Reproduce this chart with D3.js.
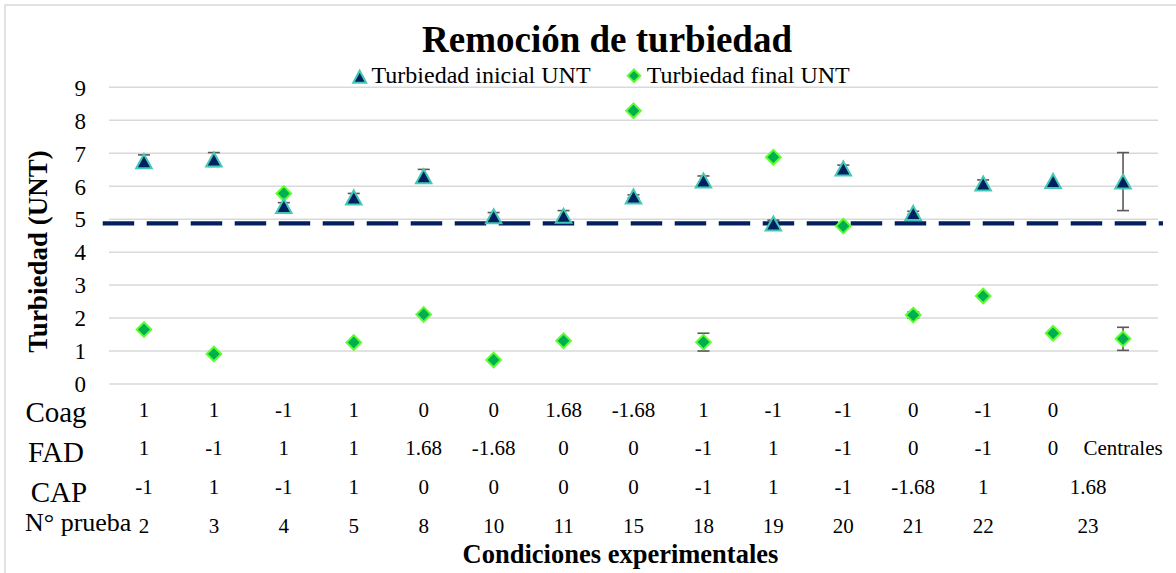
<!DOCTYPE html>
<html>
<head>
<meta charset="utf-8">
<script src="https://cdn.jsdelivr.net/npm/d3@7/dist/d3.min.js"></script>
<style>
  html, body { margin: 0; padding: 0; background: #ffffff; }
  svg { display: block; font-family: "Liberation Serif", "Times New Roman", serif; }
</style>
</head>
<body>
<svg id="chart" width="1176" height="573"></svg>
<script>
// Columns: one per test run, plus the replicated central points
const categories = ["2", "3", "4", "5", "8", "10", "11", "15", "18", "19", "20", "21", "22", "23", "Centrales"];

// Turbidity before and after treatment (UNT)
const initialTurbidity = [6.76, 6.81, 5.40, 5.66, 6.30, 5.09, 5.10, 5.69, 6.17, 4.87, 6.54, 5.19, 6.08, 6.16, 6.14];
const initialError     = [0.19, 0.21, 0.10, 0.12, 0.21, 0.11, 0.16, 0.05, 0.14, 0.10, 0.10, 0.05, 0.11, 0.00, 0.88];
const finalTurbidity   = [1.65, 0.91, 5.78, 1.26, 2.11, 0.73, 1.31, 8.29, 1.27, 6.88, 4.79, 2.09, 2.67, 1.54, 1.37];
const finalError       = [0, 0, 0, 0, 0, 0, 0, 0, 0.27, 0, 0, 0.09, 0, 0, 0.35];

// Reference turbidity level (dashed line)
const referenceLevel = 4.87;

// Y axis ticks
const yTicks = [0, 1, 2, 3, 4, 5, 6, 7, 8, 9];

// Experimental design table under the axis (null = merged with the cell to its left)
const rowLabels = ["Coag", "FAD", "CAP", "N° prueba"];
const coagRow   = ["1", "1", "-1", "1", "0", "0", "1.68", "-1.68", "1", "-1", "-1", "0", "-1", "0", ""];
const fadRow    = ["1", "-1", "1", "1", "1.68", "-1.68", "0", "0", "-1", "1", "-1", "0", "-1", "0", "Centrales"];
const capRow    = ["-1", "1", "-1", "1", "0", "0", "0", "0", "-1", "1", "-1", "-1.68", "1", "1.68", null];
const pruebaRow = ["2", "3", "4", "5", "8", "10", "11", "15", "18", "19", "20", "21", "22", "23", null];

const seriesNames = ["Turbiedad inicial UNT", "Turbiedad final UNT"];
const titleText = "Remoción de turbiedad";
const yTitle = "Turbiedad (UNT)";
const xTitle = "Condiciones experimentales";

const svg = d3.select("#chart");

const plot = { left: 109, right: 1158, top: 87.3, bottom: 384 };

const x = d3.scaleBand().domain(categories).range([plot.left, plot.right]).padding(0);
const y = d3.scaleLinear().domain([0, 9]).range([plot.bottom, plot.top]);
const cx = c => x(c) + x.bandwidth() / 2;

const colors = {
  grid: "#d9d9d9",
  triFill: "#002060",
  triStroke: "#45c9b5",
  diaFill: "#00b050",
  diaStroke: "#5cff2e",
  err: "#595959",
  ref: "#002060"
};

// Chart frame
svg.append("rect")
  .attr("x", 5).attr("y", 5)
  .attr("width", 1200).attr("height", 600)
  .attr("fill", "#ffffff")
  .attr("stroke", colors.grid)
  .attr("stroke-width", 1.5);

// Gridlines
svg.append("g")
  .selectAll("line")
  .data(yTicks)
  .join("line")
  .attr("x1", plot.left).attr("x2", plot.right)
  .attr("y1", d => y(d)).attr("y2", d => y(d))
  .attr("stroke", colors.grid)
  .attr("stroke-width", 1.5);

// Y axis labels
const yAxis = d3.axisLeft(y).tickValues(yTicks).tickSize(0).tickPadding(0).tickFormat(d3.format("d"));
const yAxisG = svg.append("g").attr("transform", `translate(86,0)`).call(yAxis);
yAxisG.select(".domain").remove();
yAxisG.selectAll("text")
  .attr("font-family", "Liberation Serif, Times New Roman, serif")
  .attr("font-size", 23)
  .attr("fill", "#000")
  .attr("dy", "0.34em");

// Title
svg.append("text")
  .attr("x", 607).attr("y", 52)
  .attr("text-anchor", "middle")
  .attr("font-size", 37)
  .attr("font-weight", "bold")
  .text(titleText);

// Y axis title
svg.append("text")
  .attr("transform", "translate(47,251.5) rotate(-90)")
  .attr("text-anchor", "middle")
  .attr("font-size", 27)
  .attr("font-weight", "bold")
  .text(yTitle);

// Marker shapes
const triPath = (w, h) => `M0,${-h / 2}L${w / 2},${h / 2}L${-w / 2},${h / 2}Z`;
const diaPath = r => `M0,${-r}L${r},0L0,${r}L${-r},0Z`;

// Legend
const legend = svg.append("g");
legend.append("path")
  .attr("d", triPath(13, 12))
  .attr("transform", "translate(359.7,76.7)")
  .attr("fill", colors.triFill).attr("stroke", colors.triStroke).attr("stroke-width", 2);
legend.append("text")
  .attr("x", 371.5).attr("y", 82.7)
  .attr("font-size", 24)
  .text(seriesNames[0]);
legend.append("path")
  .attr("d", diaPath(6.3))
  .attr("transform", "translate(634,75.8)")
  .attr("fill", colors.diaFill).attr("stroke", colors.diaStroke).attr("stroke-width", 2);
legend.append("text")
  .attr("x", 646.7).attr("y", 82.7)
  .attr("font-size", 24)
  .text(seriesNames[1]);

// Reference dashed line
svg.append("line")
  .attr("x1", 102.7).attr("x2", 1163)
  .attr("y1", y(referenceLevel)).attr("y2", y(referenceLevel))
  .attr("stroke", colors.ref)
  .attr("stroke-width", 4.2)
  .attr("stroke-dasharray", "31.5,12.5");

// Error bars
function drawErrors(values, errors) {
  const pts = categories.map((c, i) => ({ c, v: values[i], e: errors[i] })).filter(d => d.e > 0);
  const g = svg.append("g").attr("stroke", colors.err).attr("stroke-width", 1.6);
  g.selectAll("line.stem").data(pts).join("line")
    .attr("x1", d => cx(d.c)).attr("x2", d => cx(d.c))
    .attr("y1", d => y(d.v + d.e)).attr("y2", d => y(d.v - d.e));
  g.selectAll("line.capTop").data(pts).join("line")
    .attr("x1", d => cx(d.c) - 6).attr("x2", d => cx(d.c) + 6)
    .attr("y1", d => y(d.v + d.e)).attr("y2", d => y(d.v + d.e));
  g.selectAll("line.capBottom").data(pts).join("line")
    .attr("x1", d => cx(d.c) - 6).attr("x2", d => cx(d.c) + 6)
    .attr("y1", d => y(d.v - d.e)).attr("y2", d => y(d.v - d.e));
}
drawErrors(initialTurbidity, initialError);
drawErrors(finalTurbidity, finalError);

// Final turbidity markers (diamonds)
svg.append("g")
  .selectAll("path")
  .data(categories.map((c, i) => ({ c, v: finalTurbidity[i] })))
  .join("path")
  .attr("d", diaPath(7.3))
  .attr("transform", d => `translate(${cx(d.c)},${y(d.v)})`)
  .attr("fill", colors.diaFill)
  .attr("stroke", colors.diaStroke)
  .attr("stroke-width", 2);

// Initial turbidity markers (triangles)
svg.append("g")
  .selectAll("path")
  .data(categories.map((c, i) => ({ c, v: initialTurbidity[i] })))
  .join("path")
  .attr("d", triPath(15.5, 14))
  .attr("transform", d => `translate(${cx(d.c)},${y(d.v)})`)
  .attr("fill", colors.triFill)
  .attr("stroke", colors.triStroke)
  .attr("stroke-width", 2);

// Design table under the axis
const tableRows = [
  { label: rowLabels[0], cells: coagRow,   labelY: 421.7, valueY: 417.3, labelSize: 29 },
  { label: rowLabels[1], cells: fadRow,    labelY: 462,   valueY: 455,   labelSize: 29 },
  { label: rowLabels[2], cells: capRow,    labelY: 501.7, valueY: 494.3, labelSize: 29 },
  { label: rowLabels[3], cells: pruebaRow, labelY: 531,   valueY: 532.7, labelSize: 26 }
];

const table = svg.append("g");
tableRows.forEach((row, r) => {
  table.append("text")
    .attr("x", r === 3 ? 25 : (r === 2 ? 59 : 56))
    .attr("y", row.labelY)
    .attr("text-anchor", r === 3 ? "start" : "middle")
    .attr("font-size", row.labelSize)
    .text(row.label);

  const cells = [];
  row.cells.forEach((t, i) => {
    if (t === null) return;
    let span = 1;
    while (i + span < row.cells.length && row.cells[i + span] === null) span++;
    cells.push({ t, xc: x(categories[i]) + span * x.bandwidth() / 2 });
  });
  table.selectAll(null)
    .data(cells)
    .join("text")
    .attr("x", d => d.xc)
    .attr("y", row.valueY)
    .attr("text-anchor", "middle")
    .attr("font-size", 21)
    .text(d => d.t);
});

// X axis title
svg.append("text")
  .attr("x", 620.5).attr("y", 563)
  .attr("text-anchor", "middle")
  .attr("font-size", 26.5)
  .attr("font-weight", "bold")
  .text(xTitle);
</script>
</body>
</html>
